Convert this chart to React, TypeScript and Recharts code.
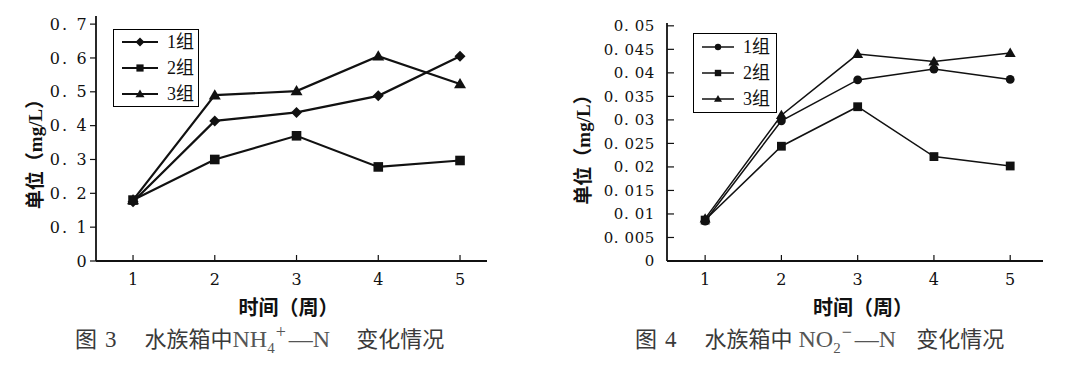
import React from "react";
import { LineChart, Line, XAxis, YAxis, Legend } from "recharts";

const weeks = [1, 2, 3, 4, 5];
const groupNames = ["1组", "2组", "3组"];

// 图3 NH4+-N (mg/L)
const nh4Group1 = [0.175, 0.414, 0.439, 0.488, 0.605];
const nh4Group2 = [0.18, 0.3, 0.37, 0.278, 0.297];
const nh4Group3 = [0.18, 0.49, 0.502, 0.605, 0.523];
const nh4Ticks = [0, 0.1, 0.2, 0.3, 0.4, 0.5, 0.6, 0.7];

// 图4 NO2--N (mg/L)
const no2Group1 = [0.0085, 0.0298, 0.0385, 0.0408, 0.0386];
const no2Group2 = [0.0087, 0.0244, 0.0328, 0.0222, 0.0202];
const no2Group3 = [0.009, 0.031, 0.044, 0.0424, 0.0442];
const no2Ticks = [0, 0.005, 0.01, 0.015, 0.02, 0.025, 0.03, 0.035, 0.04, 0.045, 0.05];

const buildRows = (a: number[], b: number[], c: number[]) =>
  weeks.map((w, i) => ({ week: w, g1: a[i], g2: b[i], g3: c[i] }));

const nh4Data = buildRows(nh4Group1, nh4Group2, nh4Group3);
const no2Data = buildRows(no2Group1, no2Group2, no2Group3);

const SERIF = '"Liberation Serif", "DejaVu Serif", serif';
const NUM = '"DejaVu Serif", "Liberation Serif", serif';
const CJK = '"Liberation Serif", "Noto Sans CJK SC", sans-serif';
const INK = "#111";

const fmtTick = (v: number) => (v === 0 ? "0" : String(v).replace(".", ". "));

type Shape = "diamond" | "square" | "triangle" | "circle";

const Marker = ({ cx, cy, shape, r }: { cx: number; cy: number; shape: Shape; r: number }) => {
  if (cx == null || cy == null) return null;
  if (shape === "diamond")
    return <polygon points={`${cx},${cy - r} ${cx + r},${cy} ${cx},${cy + r} ${cx - r},${cy}`} fill={INK} />;
  if (shape === "square")
    return <rect x={cx - r * 0.8} y={cy - r * 0.8} width={r * 1.6} height={r * 1.6} fill={INK} />;
  if (shape === "triangle")
    return <polygon points={`${cx},${cy - r} ${cx + r},${cy + r * 0.7} ${cx - r},${cy + r * 0.7}`} fill={INK} />;
  return <circle cx={cx} cy={cy} r={r * 0.8} fill={INK} />;
};

const dotFor = (shape: Shape, r: number) => (p: any) =>
  <Marker key={`${shape}-${p.index}`} cx={p.cx} cy={p.cy} shape={shape} r={r} />;

const LegendBox = ({ shapes, lineLen, strokeWidth, r, style }: any) => (
  <div
    style={{
      border: "1.5px solid #000",
      background: "#fff",
      boxSizing: "border-box",
      display: "flex",
      flexDirection: "column",
      justifyContent: "center",
      ...style,
    }}
  >
    {groupNames.map((name, i) => (
      <div key={name} style={{ display: "flex", alignItems: "center", height: 26 }}>
        <svg width={lineLen + 9} height={14} style={{ marginLeft: 8 }}>
          <line x1={0} x2={lineLen} y1={7} y2={7} stroke={INK} strokeWidth={strokeWidth} />
          <Marker cx={lineLen / 2} cy={7} shape={shapes[i]} r={r} />
        </svg>
        <span style={{ fontFamily: CJK, fontSize: 18, color: INK, lineHeight: "26px" }}>{name}</span>
      </div>
    ))}
  </div>
);

// x-axis ticks drawn pointing up into the plot
const InwardXTick = (props: any) => {
  const { x, y, payload } = props;
  const axisY = y - 13;
  return (
    <g>
      <line x1={x} x2={x} y1={axisY} y2={axisY - 6} stroke={INK} strokeWidth={1.2} />
      <text x={x} y={y} dy="0.71em" textAnchor="middle" fill={INK} fontFamily={NUM} fontSize={16}>
        {payload.value}
      </text>
    </g>
  );
};

// y-axis ticks drawn pointing right into the plot (图4)
const InwardYTick = (props: any) => {
  const { x, y, payload } = props;
  const axisX = x + 12;
  return (
    <g>
      <line x1={axisX} x2={axisX + 7} y1={y} y2={y} stroke={INK} strokeWidth={1.2} />
      <text x={x} y={y} dy="0.355em" textAnchor="end" fill={INK} fontFamily={NUM} fontSize={15} letterSpacing={0.6}>
        {fmtTick(payload.value)}
      </text>
    </g>
  );
};

const axisLine = { stroke: INK, strokeWidth: 1.8 };

const Caption = ({
  num,
  left,
  formula,
  gapAfter,
}: {
  num: string;
  left: number;
  formula: React.ReactNode;
  gapAfter: number;
}) => (
  <div
    style={{
      position: "absolute",
      left,
      top: 323,
      fontFamily: '"Noto Sans CJK SC", sans-serif',
      fontSize: 22,
      color: "#3a3a3a",
      whiteSpace: "nowrap",
      lineHeight: "28px",
    }}
  >
    <span>图</span>
    <span style={{ fontFamily: SERIF, fontSize: 23, marginLeft: 8 }}>{num}</span>
    <span style={{ marginLeft: 28 }}>水族箱中</span>
    {formula}
    <span style={{ marginLeft: gapAfter }}>变化情况</span>
  </div>
);

const App: React.FC = () => {
  return (
    <div style={{ position: "relative", width: 1080, height: 369, margin: -8, background: "#fff", overflow: "hidden" }}>
      {/* 图3 */}
      <div style={{ position: "absolute", left: 0, top: 0 }}>
        <LineChart width={540} height={320} data={nh4Data} margin={{ top: 16, right: 53, bottom: 29, left: 0 }}>
          <XAxis
            dataKey="week"
            type="number"
            domain={[0.547, 5.33]}
            ticks={weeks}
            interval={0}
            axisLine={axisLine}
            tickLine={false}
            tickSize={6}
            tickMargin={7}
            height={30}
            tick={<InwardXTick />}
            label={{ value: "时间（周）", position: "center", dx: -3, dy: 32, fill: INK, fontSize: 20, fontFamily: CJK, fontWeight: 600 }}
          />
          <YAxis
            type="number"
            domain={[0, 0.724]}
            ticks={nh4Ticks}
            interval={0}
            width={96}
            axisLine={axisLine}
            tickLine={{ stroke: INK, strokeWidth: 1.2 }}
            tickSize={6}
            tickMargin={1}
            tickFormatter={fmtTick}
            tick={{ fill: INK, fontFamily: NUM, fontSize: 16, letterSpacing: 2.2 }}
            label={{ value: "单位（mg/L）", angle: -90, position: "center", dx: -13, dy: 11, fill: INK, fontSize: 19, fontFamily: CJK, fontWeight: 600 }}
          />
          <Legend
            layout="vertical"
            align="center"
            verticalAlign="middle"
            content={() => (
              <LegendBox shapes={["diamond", "square", "triangle"]} lineLen={36} strokeWidth={2} r={4.5} style={{ width: 86, height: 78 }} />
            )}
            wrapperStyle={{ position: "absolute", left: 113, top: 29, width: "auto" }}
          />
          <Line dataKey="g1" name="1组" stroke={INK} strokeWidth={2.2} isAnimationActive={false} dot={dotFor("diamond", 5.5)} />
          <Line dataKey="g2" name="2组" stroke={INK} strokeWidth={2.2} isAnimationActive={false} dot={dotFor("square", 6)} />
          <Line dataKey="g3" name="3组" stroke={INK} strokeWidth={2.2} isAnimationActive={false} dot={dotFor("triangle", 6)} />
        </LineChart>
      </div>

      {/* 图4 */}
      <div style={{ position: "absolute", left: 540, top: 0 }}>
        <LineChart width={540} height={320} data={no2Data} margin={{ top: 23, right: 37, bottom: 29, left: 0 }}>
          <XAxis
            dataKey="week"
            type="number"
            domain={[0.5, 5.43]}
            ticks={weeks}
            interval={0}
            axisLine={axisLine}
            tickLine={false}
            tickSize={6}
            tickMargin={7}
            height={30}
            tick={<InwardXTick />}
            label={{ value: "时间（周）", position: "center", dx: 8, dy: 32, fill: INK, fontSize: 20, fontFamily: CJK, fontWeight: 600 }}
          />
          <YAxis
            type="number"
            domain={[0, 0.0506]}
            ticks={no2Ticks}
            interval={0}
            width={127}
            axisLine={axisLine}
            tickLine={false}
            tickSize={6}
            tickMargin={6}
            tick={<InwardYTick />}
            label={{ value: "单位（mg/L）", angle: -90, position: "center", dx: -20, dy: 3, fill: INK, fontSize: 19, fontFamily: CJK, fontWeight: 600 }}
          />
          <Legend
            layout="vertical"
            align="center"
            verticalAlign="middle"
            content={() => (
              <LegendBox shapes={["circle", "square", "triangle"]} lineLen={32} strokeWidth={1.5} r={4} style={{ width: 84, height: 80 }} />
            )}
            wrapperStyle={{ position: "absolute", left: 153, top: 33, width: "auto" }}
          />
          <Line dataKey="g1" name="1组" stroke={INK} strokeWidth={1.5} isAnimationActive={false} dot={dotFor("circle", 5.5)} />
          <Line dataKey="g2" name="2组" stroke={INK} strokeWidth={1.5} isAnimationActive={false} dot={dotFor("square", 5.5)} />
          <Line dataKey="g3" name="3组" stroke={INK} strokeWidth={1.5} isAnimationActive={false} dot={dotFor("triangle", 5.5)} />
        </LineChart>
      </div>

      <Caption
        num="3"
        left={75}
        gapAfter={26}
        formula={
          <span style={{ fontFamily: SERIF, fontSize: 24, color: "#555" }}>
            NH<sub style={{ fontSize: 15, lineHeight: 0 }}>4</sub>
            <sup style={{ fontSize: 18, lineHeight: 0, marginLeft: 1 }}>+</sup>
            <span style={{ marginLeft: 3 }}>—N</span>
          </span>
        }
      />
      <Caption
        num="4"
        left={635}
        gapAfter={20}
        formula={
          <span style={{ fontFamily: SERIF, fontSize: 24, color: "#555", marginLeft: 6 }}>
            NO<sub style={{ fontSize: 15, lineHeight: 0 }}>2</sub>
            <sup style={{ fontSize: 18, lineHeight: 0, marginLeft: 1 }}>−</sup>
            <span style={{ marginLeft: 3 }}>—N</span>
          </span>
        }
      />
    </div>
  );
};

export default App;
